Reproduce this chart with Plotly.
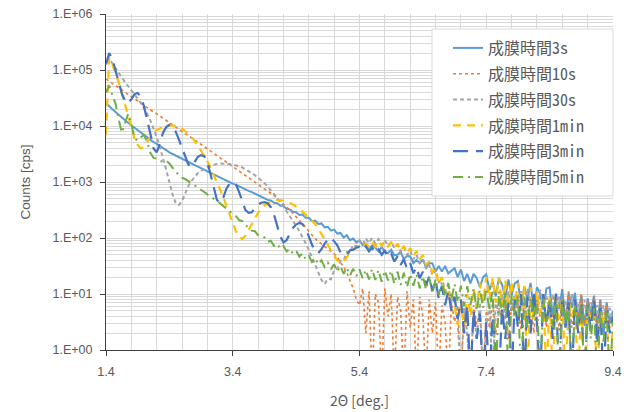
import numpy as np
import plotly.graph_objects as go

# 2-theta sampling grid (deg.), 0.05 step
two_theta = np.round(np.arange(1.4, 9.4001, 0.05), 2)

cps_3s = [
    2.57e4, 2.24e4, 2.0e4, 1.78e4, 1.58e4, 1.41e4, 1.26e4, 1.15e4, 1.02e4, 9330,
    8510, 7590, 6920, 6310, 5620, 5250, 4790, 4370, 4070, 3720,
    3390, 3160, 2950, 2750, 2570, 2400, 2240, 2140, 2000, 1860,
    1740, 1660, 1550, 1450, 1350, 1290, 1200, 1120, 1070, 1000,
    933, 891, 832, 794, 741, 692, 661, 617, 575, 550,
    513, 479, 468, 427, 417, 380, 372, 331, 324, 295,
    288, 257, 263, 229, 229, 200, 204, 178, 182, 155,
    158, 135, 141, 120, 123, 102, 112, 91.2, 97.7, 83.2,
    91.2, 74.1, 79.4, 64.6, 74.1, 67.6, 57.5, 69.2, 56.2, 53.7,
    61.7, 49.0, 50.1, 56.2, 41.7, 47.9, 46.8, 35.5, 40.7, 35.5,
    41.7, 29.5, 35.5, 35.5, 25.1, 31.6, 25.1, 31.6, 23.4, 26.3,
    28.8, 20.0, 27.5, 17.0, 22.9, 15.5, 22.9, 19.1, 13.2, 20.0,
    22.4, 11.7, 16.6, 9.12, 19.1, 14.5, 8.51, 18.2, 9.55, 15.5,
    17.0, 6.17, 13.5, 8.13, 15.8, 4.79, 13.2, 10.2, 5.25, 12.6,
    13.2, 4.07, 10.2, 5.37, 12.3, 2.88, 10.5, 5.62, 10.5, 3.24,
    9.77, 2.69, 8.32, 4.57, 9.33, 2.69, 7.94, 1.82, 7.08, 3.09,
    5.01]

cps_10s = [
    6.92e4, 6.31e4, 5.75e4, 5.25e4, 4.79e4, 4.37e4, 4.07e4, 3.72e4, 3.39e4, 3.09e4,
    2.82e4, 2.57e4, 2.34e4, 2.14e4, 1.95e4, 1.78e4, 1.66e4, 1.51e4, 1.38e4, 1.26e4,
    1.15e4, 1.05e4, 9550, 8710, 7940, 7240, 6760, 6170, 5620, 5130,
    4680, 4270, 3890, 3550, 3240, 2950, 2750, 2510, 2290, 2090,
    1910, 1740, 1580, 1450, 1320, 1200, 1120, 1020, 933, 851,
    776, 708, 646, 575, 513, 457, 407, 363, 316, 275,
    240, 209, 182, 155, 132, 112, 97.7, 87.1, 77.6, 69.2,
    63.1, 57.5, 52.5, 45.7, 38.0, 30.2, 24.0, 17.4, 12.6, 7.94,
    6.31, 12.6, 2.0, 11.2, 0.3, 10.0, 7.08, 0.3, 12.6, 3.98,
    10.0, 0.3, 8.91, 5.01, 0.3, 11.2, 2.51, 7.94, 0.3, 8.91,
    3.98, 0.3, 7.94, 2.0, 7.08, 0.3, 6.31, 3.16, 0.3, 7.08,
    3.16, 6.31, 0.3, 5.62, 2.0, 0.3, 6.31, 2.82, 5.01, 0.3,
    5.01, 2.51, 7.08, 2.0, 5.62, 3.55, 7.94, 1.58, 6.31, 3.98,
    7.08, 2.24, 7.94, 3.16, 8.91, 2.0, 7.08, 3.98, 10.0, 2.51,
    7.94, 3.16, 10.0, 2.24, 8.91, 3.98, 11.2, 2.51, 7.94, 3.55,
    10.0, 2.82, 7.94, 3.98, 8.91, 2.0, 7.08, 3.55, 6.31, 2.51,
    3.98]

cps_30s = [
    1.41e5, 1.58e5, 1.32e5, 1.07e5, 8.71e4, 7.24e4, 6.03e4, 5.13e4, 4.37e4, 3.72e4,
    3.09e4, 2.57e4, 2.09e4, 1.66e4, 1.26e4, 9120, 6310, 4170, 2690, 1660,
    1000, 603, 417, 389, 457, 631, 851, 1050, 1260, 1450,
    1580, 1740, 1860, 1950, 2040, 2090, 2140, 2140, 2140, 2090,
    2040, 2000, 1910, 1820, 1700, 1580, 1450, 1320, 1200, 1070,
    955, 832, 724, 617, 525, 437, 363, 302, 251, 209,
    166, 132, 105, 81.3, 61.7, 45.7, 33.1, 24.0, 17.8, 15.1,
    18.6, 18.2, 26.9, 28.2, 38.9, 39.8, 56.2, 55.0, 75.9, 70.8,
    89.1, 75.9, 97.7, 81.3, 100, 79.4, 95.5, 75.9, 91.2, 72.4,
    85.1, 66.1, 75.9, 57.5, 67.6, 50.1, 58.9, 41.7, 50.1, 35.5,
    41.7, 28.2, 33.1, 21.9, 26.3, 15.8, 20.0, 11.2, 14.1, 7.08,
    8.91, 3.16, 0.3, 5.62, 2.0, 0.3, 5.01, 1.58, 7.08, 0.3,
    2.51, 7.08, 0.3, 7.94, 3.98, 10.0, 3.55, 11.2, 5.01, 10.0,
    5.62, 11.2, 3.98, 12.6, 6.31, 10.0, 4.47, 12.0, 7.08, 8.91,
    5.01, 10.0, 3.55, 8.91, 6.31, 7.94, 3.16, 10.0, 5.01, 7.08,
    3.98, 7.94, 2.82, 7.08, 5.01, 6.31, 2.24, 6.31, 3.55, 5.62,
    3.16]

cps_1min = [
    7080, 1.66e5, 1.26e5, 8.91e4, 6.03e4, 3.8e4, 2.4e4, 1.45e4, 8910, 6030,
    4570, 3980, 4270, 5250, 6460, 7590, 8510, 9120, 9550, 1.0e4,
    1.02e4, 1.02e4, 1.0e4, 9550, 8910, 8130, 7240, 6310, 5370, 4470,
    3550, 2950, 2340, 1780, 1350, 1000, 741, 537, 380, 269,
    191, 132, 105, 95.5, 110, 138, 182, 229, 282, 331,
    380, 417, 447, 468, 479, 479, 468, 447, 427, 398,
    363, 331, 295, 263, 234, 204, 178, 148, 120, 95.5,
    75.9, 60.3, 47.9, 39.8, 36.3, 38.0, 45.7, 55.0, 61.7, 66.1,
    72.4, 66.1, 79.4, 69.2, 85.1, 70.8, 89.1, 72.4, 87.1, 70.8,
    83.2, 66.1, 79.4, 58.9, 72.4, 53.7, 66.1, 46.8, 58.9, 41.7,
    50.1, 33.1, 38.0, 24.0, 28.2, 15.1, 20.0, 9.55, 11.2, 5.01,
    6.31, 2.82, 7.94, 2.0, 10.0, 3.98, 12.6, 5.62, 15.8, 7.08,
    20.0, 7.94, 19.1, 7.08, 20.0, 6.31, 17.8, 5.62, 16.6, 6.31,
    15.8, 5.01, 14.1, 0.3, 13.2, 3.55, 11.2, 4.47, 10.0, 0.3,
    8.91, 0.3, 10.0, 3.55, 7.94, 0.3, 7.08, 3.98, 6.31, 0.3,
    7.08, 0.3, 6.31, 3.16, 5.62, 0.3, 5.01, 2.82, 4.47, 0.3,
    3.16]

cps_3min = [
    1.26e5, 2.0e5, 1.58e5, 1.0e5, 6.31e4, 3.8e4, 2.82e4, 2.51e4, 3.02e4, 3.72e4,
    3.89e4, 3.31e4, 2.24e4, 1.32e4, 7240, 3980, 3390, 4790, 7590, 9550,
    1.05e4, 1.0e4, 7940, 5750, 3980, 2750, 2040, 1860, 2290, 2820,
    3020, 2880, 2290, 1380, 759, 479, 427, 525, 759, 933,
    1000, 912, 661, 447, 316, 282, 288, 347, 398, 427,
    437, 417, 355, 263, 166, 107, 83.2, 91.2, 120, 151,
    174, 186, 178, 148, 107, 75.9, 58.9, 53.7, 63.1, 79.4,
    93.3, 102, 87.1, 74.1, 55.0, 53.7, 50.1, 60.3, 61.7, 67.6,
    69.2, 60.3, 70.8, 57.5, 67.6, 55.0, 63.1, 50.1, 58.9, 45.7,
    52.5, 38.0, 46.8, 33.1, 41.7, 28.2, 35.5, 23.4, 30.2, 19.1,
    25.1, 14.1, 20.9, 11.2, 17.8, 8.32, 14.1, 6.31, 11.2, 5.01,
    8.91, 3.55, 7.94, 2.0, 6.31, 0.3, 5.01, 1.58, 4.47, 0.3,
    3.16, 0.3, 3.98, 1.26, 0.3, 5.62, 1.58, 7.08, 0.3, 7.94,
    2.51, 10.0, 0.3, 8.91, 2.0, 11.2, 3.16, 0.3, 10.0, 2.82,
    7.94, 1.58, 10.0, 0.3, 8.91, 2.51, 7.08, 0.3, 7.94, 2.0,
    7.08, 0.3, 6.31, 2.24, 7.94, 1.26, 5.62, 0.3, 5.01, 2.0,
    3.98]

cps_5min = [
    3.98e4, 5.25e4, 3.55e4, 2.51e4, 1.32e4, 7590, 1.12e4, 1.66e4, 1.12e4, 6030,
    5500, 6310, 6920, 5250, 3310, 2690, 2630, 2400, 2290, 2400,
    2140, 1780, 1510, 1350, 1200, 1120, 1050, 955, 871, 794,
    724, 676, 617, 562, 513, 468, 417, 372, 331, 295,
    269, 245, 209, 200, 166, 158, 135, 132, 112, 110,
    102, 85.1, 89.1, 72.4, 79.4, 64.6, 72.4, 57.5, 64.6, 52.5,
    58.9, 46.8, 53.7, 41.7, 47.9, 37.2, 43.7, 33.9, 39.8, 30.2,
    36.3, 28.2, 33.9, 25.1, 31.6, 22.9, 29.5, 21.4, 28.2, 20.9,
    27.5, 19.1, 26.9, 18.2, 28.2, 17.8, 26.9, 16.6, 26.3, 17.4,
    26.3, 15.1, 25.1, 14.5, 24.0, 13.2, 22.9, 14.1, 22.4, 12.6,
    20.9, 12.0, 20.0, 10.5, 18.2, 9.55, 16.6, 8.91, 15.8, 7.94,
    15.1, 7.08, 14.1, 6.03, 13.8, 6.31, 12.6, 5.01, 12.0, 5.62,
    12.6, 5.01, 12.0, 0.3, 11.2, 4.47, 10.5, 0.3, 10.0, 3.98,
    9.55, 0.3, 8.91, 2.51, 8.91, 3.55, 7.94, 0.3, 8.32, 3.16,
    7.59, 2.51, 7.08, 0.3, 7.94, 2.82, 6.31, 0.3, 6.61, 2.51,
    6.31, 0.3, 6.03, 1.58, 5.62, 0.3, 5.25, 1.41, 5.01, 0.3,
    3.16]

series_names = ["成膜時間3s", "成膜時間10s", "成膜時間30s",
                "成膜時間1min", "成膜時間3min", "成膜時間5min"]
series_values = [cps_3s, cps_10s, cps_30s, cps_1min, cps_3min, cps_5min]
series_colors = ["#5B9BD5", "#ED7D31", "#A5A5A5", "#FFC000", "#4472C4", "#70AD47"]
series_dash = ["solid", "dot", "4px,3px", "8px,6px", "15px,8px", "10px,5px,2px,5px"]
series_width = [2, 1.6, 2, 2.2, 2.2, 2]

x_ticks = [1.4, 3.4, 5.4, 7.4, 9.4]
x_ticktext = ["1.4", "3.4", "5.4", "7.4", "9.4"]
y_ticks = [1, 10, 100, 1000, 10000, 100000, 1000000]
y_ticktext = ["1.E+00", "1.E+01", "1.E+02", "1.E+03", "1.E+04", "1.E+05", "1.E+06"]

fig = go.Figure()
for i, (name, vals) in enumerate(zip(series_names, series_values)):
    fig.add_trace(go.Scatter(
        x=two_theta, y=vals, name=name, mode="lines",
        legendgroup=f"g{i}",
        line=dict(color=series_colors[i], dash=series_dash[i], width=series_width[i]),
    ))

grid = "#D9D9D9"
axis_font = dict(family="Liberation Sans, Arial, sans-serif", size=12.5, color="#595959")
minor_y = [m * 10 ** k for k in range(6) for m in range(2, 10)]

# legend frame (plot area is 106..613 px wide, 14..350 px tall)
W_PLOT, H_PLOT = 507.0, 336.0
def px_x(p):
    return (p - 106) / W_PLOT
def px_y(p):
    return 1 - (p - 14) / H_PLOT

fig.add_shape(type="rect", xref="paper", yref="paper",
              x0=px_x(432), x1=px_x(613), y0=px_y(196), y1=px_y(29),
              fillcolor="white", line=dict(color="#D9D9D9", width=1), layer="above")

fig.update_layout(
    width=635, height=412,
    margin=dict(l=106, r=22, t=14, b=62, autoexpand=False),
    paper_bgcolor="white", plot_bgcolor="white",
    font=axis_font,
    showlegend=True,
    legend=dict(
        x=px_x(448), y=px_y(31), xanchor="left", yanchor="top",
        bgcolor="rgba(0,0,0,0)", borderwidth=0,
        font=dict(family="Noto Sans Mono CJK JP, Noto Sans CJK JP", size=16, color="#595959"),
        tracegroupgap=2, itemwidth=30,
    ),
    xaxis=dict(
        range=[1.4, 9.4], tickmode="array", tickvals=x_ticks, ticktext=x_ticktext,
        showgrid=True, gridcolor=grid, gridwidth=1,
        minor=dict(tick0=1.4, dtick=0.4, showgrid=True, gridcolor=grid, gridwidth=1, ticks=""),
        showline=True, linecolor="#404040", linewidth=1,
        ticks="outside", ticklen=5, tickcolor="#404040",
        tickfont=axis_font, zeroline=False, ticklabelstandoff=5, automargin=False,
        title=dict(text="2Θ [deg.]", font=dict(family="Noto Sans CJK JP", size=14, color="#595959"), standoff=18),
    ),
    yaxis=dict(
        type="log", range=[0, 6], tickmode="array", tickvals=y_ticks, ticktext=y_ticktext,
        showgrid=True, gridcolor=grid, gridwidth=1,
        minor=dict(tickmode="array", tickvals=minor_y, showgrid=True, gridcolor=grid, gridwidth=1, ticks=""),
        showline=True, linecolor="#404040", linewidth=1,
        ticks="outside", ticklen=5, tickcolor="#404040",
        tickfont=axis_font, zeroline=False, ticklabelstandoff=5, automargin=False,
        title=dict(text="Counts [cps]", font=dict(family="Liberation Sans, Arial, sans-serif", size=13.5, color="#595959"), standoff=18),
    ),
)

fig.write_html("out.html")
